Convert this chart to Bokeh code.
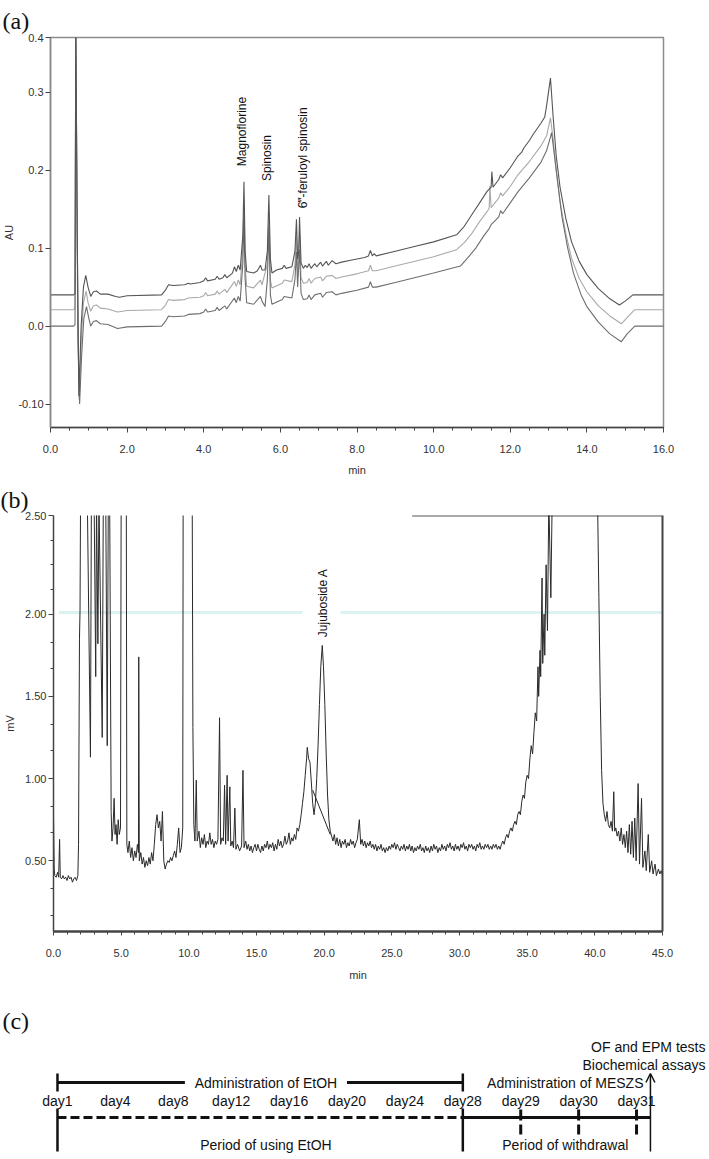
import math
from bokeh.plotting import figure
from bokeh.models import (Range1d, FixedTicker, SingleIntervalTicker, NumeralTickFormatter,
                          Label, LinearAxis, Arrow, OpenHead, Title)
from bokeh.layouts import column
from bokeh.embed import file_html
from bokeh.resources import INLINE
from bokeh.core.properties import value

# ---------------- data: panel (a) HPLC-UV chromatogram (three runs) ----------------
A1_t = [0.0, 0.6, 0.64, 0.66, 0.70, 0.74, 0.80, 0.86, 0.92, 0.98, 1.05, 1.12, 1.2, 1.3, 1.5, 1.7, 1.8, 2.0, 2.9,
        3.0, 3.08, 3.2, 3.5, 3.6, 3.65, 3.9, 4.0, 4.05, 4.1, 4.3, 4.35, 4.4, 4.5, 4.55, 4.6, 4.75, 4.8, 4.85, 4.9,
        4.95, 5.02, 5.05, 5.08, 5.12, 5.3, 5.4, 5.48, 5.52, 5.6, 5.66, 5.7, 5.74, 5.78, 5.9, 6.05, 6.1, 6.15, 6.3,
        6.38, 6.42, 6.45, 6.48, 6.5, 6.54, 6.6, 6.65, 6.7, 6.75, 6.8, 6.9, 6.95, 7.05, 7.1, 7.2, 7.25, 7.35, 7.45,
        7.6, 7.8, 8.0, 8.2, 8.3, 8.35, 8.4, 8.45, 8.5, 9.0, 9.5, 10.0, 10.6, 10.8, 11.0, 11.2, 11.4, 11.5, 11.52,
        11.55, 11.7, 11.75, 11.8, 12.0, 12.2, 12.3, 12.35, 12.5, 12.6, 12.8, 12.9, 12.95, 13.05, 13.12, 13.2, 13.3,
        13.45, 13.6, 13.8, 14.0, 14.3, 14.6, 14.85, 15.0, 15.2, 16.0]
A1_v = [0.040, 0.040, 0.042, 0.40, 0.10, -0.09, 0.0, 0.05, 0.065, 0.05, 0.038, 0.044, 0.045, 0.041, 0.041, 0.038,
        0.037, 0.039, 0.040, 0.046, 0.053, 0.052, 0.053, 0.055, 0.054, 0.056, 0.058, 0.062, 0.058, 0.060, 0.064,
        0.060, 0.062, 0.066, 0.062, 0.068, 0.076, 0.070, 0.078, 0.072, 0.116, 0.185, 0.096, 0.070, 0.068, 0.071,
        0.078, 0.072, 0.072, 0.096, 0.168, 0.086, 0.068, 0.072, 0.074, 0.078, 0.074, 0.076, 0.096, 0.137, 0.086,
        0.096, 0.140, 0.081, 0.074, 0.078, 0.075, 0.080, 0.074, 0.080, 0.076, 0.082, 0.077, 0.083, 0.078, 0.084,
        0.080, 0.082, 0.084, 0.086, 0.088, 0.090, 0.097, 0.090, 0.093, 0.090, 0.096, 0.102, 0.108, 0.117, 0.128,
        0.143, 0.158, 0.173, 0.178, 0.198, 0.178, 0.188, 0.194, 0.190, 0.203, 0.218, 0.223, 0.228, 0.238, 0.246,
        0.260, 0.268, 0.283, 0.318, 0.268, 0.218, 0.178, 0.138, 0.108, 0.083, 0.066, 0.048, 0.035, 0.027, 0.032,
        0.040, 0.040]

A2_t = [0.0, 0.6, 0.64, 0.66, 0.71, 0.75, 0.80, 0.86, 0.93, 0.98, 1.05, 1.12, 1.2, 1.3, 1.5, 1.75, 2.0, 2.9, 3.0,
        3.08, 3.2, 3.5, 3.6, 3.9, 4.0, 4.05, 4.1, 4.3, 4.35, 4.4, 4.55, 4.6, 4.8, 4.85, 4.9, 4.95, 5.02, 5.05, 5.08,
        5.12, 5.3, 5.48, 5.52, 5.66, 5.7, 5.74, 5.78, 6.05, 6.1, 6.3, 6.38, 6.42, 6.45, 6.5, 6.54, 6.6, 6.7, 6.75,
        6.8, 6.9, 7.05, 7.1, 7.2, 7.35, 7.45, 7.6, 8.0, 8.3, 8.35, 8.4, 8.5, 9.0, 10.0, 10.6, 10.8, 11.0, 11.2,
        11.4, 11.45, 11.47, 11.5, 11.7, 11.75, 11.8, 12.0, 12.2, 12.5, 12.8, 12.95, 13.05, 13.12, 13.2, 13.3, 13.45,
        13.6, 13.8, 14.0, 14.3, 14.6, 14.9, 15.05, 15.25, 16.0]
A2_v = [0.021, 0.021, 0.023, 0.39, 0.0, -0.095, -0.02, 0.03, 0.045, 0.03, 0.019, 0.026, 0.027, 0.023, 0.022, 0.018,
        0.020, 0.021, 0.027, 0.034, 0.033, 0.034, 0.036, 0.037, 0.039, 0.043, 0.039, 0.041, 0.045, 0.041, 0.047,
        0.043, 0.057, 0.051, 0.059, 0.053, 0.099, 0.160, 0.079, 0.051, 0.049, 0.059, 0.053, 0.079, 0.145, 0.059,
        0.049, 0.055, 0.059, 0.057, 0.079, 0.115, 0.069, 0.118, 0.062, 0.055, 0.056, 0.061, 0.055, 0.061, 0.063,
        0.058, 0.064, 0.065, 0.061, 0.063, 0.067, 0.071, 0.078, 0.071, 0.071, 0.077, 0.089, 0.098, 0.107, 0.119,
        0.134, 0.147, 0.151, 0.180, 0.152, 0.164, 0.171, 0.167, 0.179, 0.194, 0.211, 0.231, 0.244, 0.267, 0.239,
        0.199, 0.159, 0.119, 0.087, 0.061, 0.044, 0.026, 0.013, 0.003, 0.011, 0.021, 0.021]

A3_t = [0.0, 0.6, 0.64, 0.66, 0.72, 0.76, 0.81, 0.87, 0.94, 1.0, 1.05, 1.12, 1.2, 1.3, 1.5, 1.75, 2.0, 2.9, 3.0,
        3.08, 3.2, 3.5, 3.6, 3.9, 4.0, 4.05, 4.1, 4.3, 4.35, 4.4, 4.55, 4.6, 4.8, 4.85, 4.9, 4.95, 5.02, 5.05, 5.08,
        5.12, 5.3, 5.48, 5.52, 5.6, 5.66, 5.7, 5.74, 5.78, 6.05, 6.1, 6.3, 6.38, 6.42, 6.45, 6.5, 6.54, 6.6, 6.7,
        6.75, 6.8, 6.9, 7.05, 7.1, 7.2, 7.35, 7.45, 7.6, 8.0, 8.3, 8.35, 8.4, 8.5, 9.0, 10.0, 10.7, 10.9, 11.1,
        11.3, 11.45, 11.5, 11.6, 11.7, 11.75, 11.8, 12.0, 12.2, 12.5, 12.8, 12.95, 13.08, 13.15, 13.25, 13.35,
        13.5, 13.65, 13.85, 14.0, 14.3, 14.6, 14.9, 15.05, 15.25, 16.0]
A3_v = [0.0, 0.0, 0.002, 0.38, -0.02, -0.10, -0.04, 0.01, 0.025, 0.01, 0.0, 0.006, 0.007, 0.003, 0.002, -0.003,
        -0.001, 0.0, 0.006, 0.013, 0.012, 0.013, 0.015, 0.016, 0.018, 0.022, 0.018, 0.020, 0.024, 0.020, 0.026,
        0.022, 0.036, 0.030, 0.038, 0.032, 0.080, 0.140, 0.060, 0.030, 0.028, 0.038, 0.032, 0.025, 0.060, 0.125,
        0.040, 0.028, 0.034, 0.038, 0.036, 0.060, 0.095, 0.050, 0.098, 0.042, 0.034, 0.035, 0.040, 0.034, 0.040,
        0.042, 0.037, 0.043, 0.044, 0.040, 0.042, 0.046, 0.050, 0.057, 0.050, 0.050, 0.056, 0.068, 0.077, 0.088,
        0.100, 0.115, 0.125, 0.130, 0.135, 0.140, 0.148, 0.144, 0.158, 0.172, 0.190, 0.210, 0.225, 0.248, 0.220,
        0.180, 0.140, 0.100, 0.068, 0.040, 0.025, 0.005, -0.010, -0.020, -0.010, 0.0, 0.0]

A_peaks = ["Magnoflorine", "Spinosin", "6\u2034-feruloyl spinosin"]
A_peak_t = [5.0, 5.65, 6.6]
A_peak_label_y = [0.205, 0.186, 0.151]

# ---------------- data: panel (b) ELSD chromatogram ----------------
B_t = [0.0, 0.05, 0.1, 0.2, 0.3, 0.38, 0.45, 0.5, 0.6, 0.7, 0.8, 0.9, 1.0, 1.1, 1.2, 1.3, 1.4, 1.5, 1.6, 1.7, 1.8,
       1.85, 1.92, 1.96, 2.0, 2.3, 2.5, 2.73, 2.8, 3.0, 3.12, 3.18, 3.28, 3.36, 3.6, 3.68, 3.86, 3.97, 4.05, 4.15,
       4.26, 4.32, 4.4, 4.48, 4.55, 4.62, 4.7, 4.78, 4.86, 4.95, 5.0, 5.38, 5.42, 5.5, 5.6, 5.7, 5.8, 5.9, 6.0, 6.1,
       6.2, 6.28, 6.3, 6.34, 6.45, 6.55, 6.65, 6.75, 6.85, 6.95, 7.05, 7.15, 7.25, 7.35, 7.45, 7.55, 7.65, 7.75,
       7.85, 7.95, 8.05, 8.15, 8.25, 8.35, 8.45, 8.55, 8.65, 8.75, 8.85, 8.95, 9.05, 9.15, 9.25, 9.35, 9.45, 9.55,
       9.58, 10.25, 10.3, 10.37, 10.45, 10.55, 10.62, 10.75, 10.85, 10.95, 11.05, 11.15, 11.25, 11.35, 11.45,
       11.55, 11.65, 11.75, 11.85, 11.95, 12.05, 12.15, 12.27, 12.35, 12.45, 12.55, 12.64, 12.72, 12.83, 12.9,
       13.03, 13.1, 13.2, 13.3, 13.4, 13.48, 13.6, 13.75, 13.9, 14.0, 14.08, 14.2, 14.3, 14.4, 14.5, 14.6, 14.7,
       14.8, 14.9, 15.0, 15.1, 15.2, 15.3, 15.4, 15.5, 15.6, 15.7, 15.8, 15.9, 16.0, 16.1, 16.2, 16.3, 16.4, 16.5,
       16.6, 16.7, 16.8, 16.9, 17.0, 17.1, 17.2, 17.3, 17.4, 17.5, 17.6, 17.7, 17.8, 17.9, 18.0, 18.1, 18.2, 18.3,
       18.4, 18.5, 18.6, 18.7, 18.75, 18.85, 18.95, 19.05, 19.15, 19.25, 19.35, 19.45, 19.55, 19.65, 19.75, 19.86,
       19.95, 20.05, 20.15, 20.25, 20.35, 20.45, 20.55, 20.65, 20.75, 20.85, 20.95, 21.05, 21.15, 21.25, 21.35,
       21.45, 21.55, 21.65, 21.75, 21.85, 21.95, 22.05, 22.15, 22.25, 22.35, 22.45, 22.6, 22.7, 22.8, 22.9, 23.0,
       23.1, 23.2, 23.3, 23.4, 23.5, 23.6, 23.7, 23.8, 23.9, 24.0, 24.1, 24.2, 24.3, 24.4, 24.5, 24.6, 24.7, 24.8,
       24.9, 25.0, 25.1, 25.2, 25.3, 25.4, 25.5, 25.6, 25.7, 25.8, 25.9, 26.0, 26.1, 26.2, 26.3, 26.4, 26.5, 26.6,
       26.7, 26.8, 26.9, 27.0, 27.1, 27.2, 27.3, 27.4, 27.5, 27.6, 27.7, 27.8, 27.9, 28.0, 28.1, 28.2, 28.3, 28.4,
       28.5, 28.6, 28.7, 28.8, 28.9, 29.0, 29.1, 29.2, 29.3, 29.4, 29.5, 29.6, 29.7, 29.8, 29.9, 30.0, 30.1, 30.2,
       30.3, 30.4, 30.5, 30.6, 30.7, 30.8, 30.9, 31.0, 31.1, 31.2, 31.3, 31.4, 31.5, 31.6, 31.7, 31.8, 31.9, 32.0,
       32.1, 32.2, 32.3, 32.4, 32.5, 32.6, 32.7, 32.8, 32.9, 33.0, 33.1, 33.2, 33.3, 33.4, 33.5, 33.6, 33.7, 33.8,
       33.9, 34.0, 34.1, 34.2, 34.3, 34.4, 34.5, 34.6, 34.7, 34.8, 34.9, 35.0, 35.1, 35.2, 35.3, 35.4, 35.5, 35.6,
       35.7, 35.8, 35.85, 35.95, 36.0, 36.1, 36.15, 36.25, 36.3, 36.4, 36.5, 36.6, 36.75, 36.85, 37.0, 40.1, 40.2,
       40.3, 40.4, 40.5, 40.6, 40.7, 40.8, 40.9, 41.0, 41.1, 41.2, 41.3, 41.4, 41.47, 41.55, 41.65, 41.75, 41.85,
       41.95, 42.05, 42.15, 42.25, 42.35, 42.45, 42.55, 42.65, 42.75, 42.85, 42.95, 43.05, 43.2, 43.3, 43.45,
       43.55, 43.7, 43.8, 43.95, 44.05, 44.2, 44.3, 44.45, 44.55, 44.7, 44.8, 44.9, 45.0]
B_v = [0.78, 0.45, 0.41, 0.40, 0.43, 0.40, 0.63, 0.40, 0.39, 0.41, 0.39, 0.40, 0.38, 0.41, 0.39, 0.40, 0.37, 0.39,
       0.40, 0.38, 0.41, 0.60, 1.85, 2.02, 2.70, 2.70, 2.70, 1.13, 2.70, 2.70, 1.62, 2.70, 1.82, 2.70, 1.25, 2.70,
       2.70, 1.20, 2.70, 2.70, 0.80, 0.62, 0.70, 0.88, 0.66, 0.72, 0.60, 0.75, 0.66, 0.70, 2.70, 2.70, 0.60, 0.55,
       0.62, 0.52, 0.58, 0.50, 0.56, 0.52, 0.60, 0.55, 1.74, 0.50, 0.55, 0.48, 0.52, 0.46, 0.50, 0.47, 0.52, 0.48,
       0.55, 0.50, 0.60, 0.72, 0.78, 0.70, 0.74, 0.62, 0.80, 0.50, 0.45, 0.48, 0.50, 0.49, 0.52, 0.50, 0.53, 0.56,
       0.52, 0.60, 0.70, 0.55, 0.58, 0.70, 2.70, 2.70, 1.31, 0.72, 0.62, 0.99, 0.62, 0.68, 0.58, 0.64, 0.60, 0.66,
       0.58, 0.62, 0.60, 0.67, 0.60, 0.63, 0.58, 0.62, 0.60, 0.63, 1.37, 0.60, 0.64, 0.62, 0.96, 0.60, 1.02, 0.62,
       0.95, 0.59, 0.62, 0.58, 0.82, 0.57, 0.60, 0.56, 0.59, 1.05, 0.58, 0.62, 0.57, 0.60, 0.56, 0.59, 0.55, 0.58,
       0.60, 0.56, 0.60, 0.57, 0.55, 0.59, 0.56, 0.60, 0.58, 0.62, 0.57, 0.60, 0.58, 0.61, 0.56, 0.60, 0.57, 0.63,
       0.59, 0.62, 0.58, 0.60, 0.65, 0.60, 0.62, 0.67, 0.60, 0.64, 0.62, 0.66, 0.63, 0.70, 0.68, 0.72, 0.78, 0.85,
       0.92, 1.02, 1.12, 1.19, 1.12, 1.10, 0.98, 0.85, 0.78, 0.85, 1.00, 1.20, 1.45, 1.68, 1.81, 1.68, 1.45, 1.15,
       0.90, 0.75, 0.68, 0.65, 0.62, 0.66, 0.60, 0.64, 0.59, 0.63, 0.58, 0.62, 0.60, 0.63, 0.58, 0.61, 0.59, 0.63,
       0.60, 0.62, 0.58, 0.61, 0.63, 0.75, 0.60, 0.63, 0.59, 0.62, 0.58, 0.61, 0.59, 0.62, 0.58, 0.60, 0.57, 0.60,
       0.56, 0.59, 0.57, 0.60, 0.56, 0.58, 0.55, 0.58, 0.56, 0.59, 0.57, 0.60, 0.58, 0.61, 0.57, 0.60, 0.58, 0.56,
       0.59, 0.57, 0.60, 0.56, 0.59, 0.57, 0.60, 0.56, 0.59, 0.55, 0.58, 0.56, 0.59, 0.57, 0.60, 0.56, 0.58, 0.55,
       0.59, 0.56, 0.58, 0.55, 0.59, 0.56, 0.60, 0.57, 0.59, 0.55, 0.58, 0.56, 0.60, 0.57, 0.59, 0.56, 0.60, 0.58,
       0.61, 0.57, 0.59, 0.56, 0.60, 0.57, 0.59, 0.56, 0.60, 0.58, 0.61, 0.57, 0.59, 0.56, 0.60, 0.58, 0.60, 0.57,
       0.59, 0.56, 0.60, 0.58, 0.61, 0.57, 0.59, 0.57, 0.60, 0.58, 0.60, 0.57, 0.59, 0.57, 0.60, 0.58, 0.60, 0.57,
       0.59, 0.57, 0.60, 0.62, 0.60, 0.64, 0.66, 0.64, 0.68, 0.70, 0.68, 0.72, 0.74, 0.72, 0.78, 0.80, 0.78, 0.86,
       0.90, 0.88, 0.98, 1.02, 1.00, 1.12, 1.20, 1.15, 1.28, 1.40, 1.35, 1.68, 1.50, 1.78, 1.62, 2.22, 1.70, 2.00,
       1.75, 2.30, 1.90, 2.70, 2.10, 2.70, 3.50, 3.50, 2.70, 2.10, 1.50, 1.05, 0.85, 0.78, 0.74, 0.80, 0.72, 0.70,
       0.74, 0.68, 0.92, 0.68, 0.70, 0.65, 0.68, 0.62, 0.70, 0.60, 0.66, 0.58, 0.68, 0.55, 0.72, 0.54, 0.74, 0.52,
       0.76, 0.50, 0.97, 0.48, 0.88, 0.46, 0.56, 0.44, 0.66, 0.43, 0.50, 0.42, 0.48, 0.41, 0.45, 0.42, 0.44, 0.41]

# tangent drop line under the Jujuboside A peak
B_drop_t = [19.15, 20.45]
B_drop_v = [0.93, 0.66]
# faint cyan reference line printed at the 2.00 level
B_cyan_t = [[0.4, 18.4], [21.2, 45.0]]
B_cyan_v = [[2.01, 2.01], [2.01, 2.01]]

B_peak = ["Jujuboside A"]
B_peak_t = [19.9]
B_peak_label_y = [1.86]

# ---------------- data: panel (c) timeline ----------------
C_days = ["day1", "day4", "day8", "day12", "day16", "day20", "day24", "day28", "day29", "day30", "day31"]
C_idx = list(range(len(C_days)))

FONT = "Liberation Sans"
SERIF = "Liberation Serif"


def style_axis(ax, size="11px"):
    ax.axis_line_color = "#444"
    ax.axis_line_width = 1.5
    ax.major_tick_line_color = "#444"
    ax.minor_tick_line_color = "#444"
    ax.major_tick_in = 0
    ax.major_tick_out = 5
    ax.minor_tick_in = 0
    ax.minor_tick_out = 3
    ax.major_label_text_font = FONT
    ax.major_label_text_font_size = size
    ax.major_label_text_color = "#333"
    ax.major_label_standoff = 2
    ax.axis_label_text_font = FONT
    ax.axis_label_text_font_size = size
    ax.axis_label_text_font_style = "normal"
    ax.axis_label_text_color = "#333"


def panel_title(text, shift, standoff):
    return Title(text=text, align="left", offset=shift, text_font=SERIF, text_font_size="24px",
                 text_font_style="normal", text_color="#111", standoff=standoff)


# ================= panel (a) =================
pa = figure(width=709, height=482, output_backend="svg", toolbar_location=None,
            x_range=Range1d(0, 16), y_range=Range1d(-0.13, 0.37), frame_align=False,
            min_border_left=48, min_border_right=46, min_border_top=37, min_border_bottom=55)
pa.grid.visible = False
pa.outline_line_color = "#8c8c8c"
pa.outline_line_width = 1.5
pa.xaxis.ticker = SingleIntervalTicker(interval=2, num_minor_ticks=4)
pa.xaxis.formatter = NumeralTickFormatter(format="0.0")
pa.yaxis.ticker = FixedTicker(ticks=[-0.1, 0.0, 0.1, 0.2, 0.3, 0.37])
pa.yaxis.formatter = NumeralTickFormatter(format="0.0")
pa.yaxis.major_label_overrides = {-0.1: "-0.10", 0.37: "0.4"}
style_axis(pa.xaxis[0])
style_axis(pa.yaxis[0])
pa.xaxis.axis_label = "min"
pa.xaxis.major_label_standoff = 12
pa.xaxis.axis_label_standoff = 8
pa.yaxis.axis_label = "AU"
pa.yaxis.axis_label_standoff = 0
pa.yaxis.minor_tick_line_color = None
pa.yaxis.axis_line_color = "#888"
pa.add_layout(panel_title("(a)", -48, 8), "above")

pa.line(A2_t, A2_v, line_color="#a9a9a9", line_width=1.1)
pa.line(A3_t, A3_v, line_color="#6e6e6e", line_width=1.1)
pa.line(A1_t, A1_v, line_color="#555555", line_width=1.1)

for name, t, yv in zip(A_peaks, A_peak_t, A_peak_label_y):
    pa.add_layout(Label(x=t, y=yv, text=name, angle=math.pi / 2, text_align="left",
                        text_baseline="middle", text_font=FONT, text_font_size="12px",
                        text_color="#111"))

# ================= panel (b) =================
pb = figure(width=709, height=503, output_backend="svg", toolbar_location=None,
            x_range=Range1d(0, 45), y_range=Range1d(0.07, 2.6), frame_align=False,
            min_border_left=53, min_border_right=47, min_border_top=33, min_border_bottom=54)
pb.grid.visible = False
pb.outline_line_color = None
pb.xaxis.ticker = SingleIntervalTicker(interval=5, num_minor_ticks=5)
pb.xaxis.formatter = NumeralTickFormatter(format="0.0")
pb.yaxis.ticker = FixedTicker(ticks=[0.5, 1.0, 1.5, 2.0, 2.6],
                              minor_ticks=[0.17, 0.33, 0.67, 0.83, 1.17, 1.33, 1.67, 1.83, 2.15, 2.3, 2.45])
pb.yaxis.formatter = NumeralTickFormatter(format="0.00")
pb.yaxis.major_label_overrides = {2.6: "2.50"}
style_axis(pb.xaxis[0])
style_axis(pb.yaxis[0])
pb.xaxis.axis_label = "min"
pb.xaxis.major_label_standoff = 13
pb.xaxis.axis_label_standoff = 9
pb.yaxis.axis_label = "mV"
pb.yaxis.axis_label_standoff = 6
pb.xaxis.axis_line_width = 2.5
pb.xaxis.major_tick_out = 4
right = LinearAxis(ticker=FixedTicker(ticks=[]), axis_line_color="#444", axis_line_width=2,
                   major_label_text_font_size="0px", major_tick_line_color=None, minor_tick_line_color=None)
pb.add_layout(right, "right")
pb.add_layout(panel_title("(b)", -53, 5), "above")

FRAME_TOP_START = 26.5
pb.segment(x0=[FRAME_TOP_START], y0=[2.6], x1=[45], y1=[2.6], line_color="#555", line_width=2)
pb.multi_line(B_cyan_t, B_cyan_v, line_color="#dcf1f1", line_width=3)
pb.line(B_t, B_v, line_color="#2a2a2a", line_width=1)
pb.line(B_drop_t, B_drop_v, line_color="#2a2a2a", line_width=1)

for name, t, yv in zip(B_peak, B_peak_t, B_peak_label_y):
    pb.add_layout(Label(x=t, y=yv, text=name, angle=math.pi / 2, text_align="left",
                        text_baseline="middle", text_font=FONT, text_font_size="12px",
                        text_color="#111"))

# ================= panel (c) =================
pc = figure(width=709, height=174, output_backend="svg", toolbar_location=None,
            x_range=Range1d(-0.984, 11.26), y_range=Range1d(174, 0), frame_align=False,
            x_axis_type=None, y_axis_type=None,
            min_border_left=0, min_border_right=0, min_border_top=0, min_border_bottom=0)
pc.grid.visible = False
pc.outline_line_color = None

TXT = dict(text_font=value(FONT), text_font_size=value("14px"), text_color="#111")
BLACK = "#111"
# top bracket "Administration of EtOH"
pc.segment(x0=[0, 5.0], y0=[97, 97], x1=[2.2, 7], y1=[97, 97], line_color=BLACK, line_width=3)
pc.segment(x0=[0, 7, 0, 7], y0=[88, 88, 123, 123], x1=[0, 7, 0, 7], y1=[106, 106, 166, 166],
           line_color=BLACK, line_width=2.5)
# day labels
pc.text(x=C_idx, y=[115] * len(C_idx), text=C_days, text_align="center", text_baseline="middle", **TXT)
# timelines
pc.segment(x0=[0], y0=[132], x1=[7], y1=[132], line_color=BLACK, line_width=3, line_dash="9 4")
pc.segment(x0=[7], y0=[132], x1=[10.24], y1=[132], line_color=BLACK, line_width=3)
pc.segment(x0=C_idx[8:], y0=[124] * 3, x1=C_idx[8:], y1=[149] * 3, line_color=BLACK, line_width=3,
           line_dash="11 4")
pc.add_layout(Arrow(end=OpenHead(size=9, line_width=1.5, line_color=BLACK), x_start=10.24, y_start=166,
                    x_end=10.24, y_end=88, line_width=1.5, line_color=BLACK))
pc.text(x=[3.6, 8.77, 3.6, 8.77], y=[97, 97, 159, 159],
        text=["Administration of EtOH", "Administration of MESZS", "Period of using EtOH", "Period of withdrawal"],
        text_align="center", text_baseline="middle", **TXT)
pc.text(x=[11.19, 11.19], y=[61, 79], text=["OF and EPM tests", "Biochemical assays"],
        text_align="right", text_baseline="middle", **TXT)
pc.text(x=[-0.95], y=[35], text=["(c)"], text_align="left", text_baseline="middle",
        text_font=value(SERIF), text_font_size=value("24px"), text_color="#111")

layout = column(pa, pb, pc)
open("out.html", "w").write(file_html(layout, INLINE))
